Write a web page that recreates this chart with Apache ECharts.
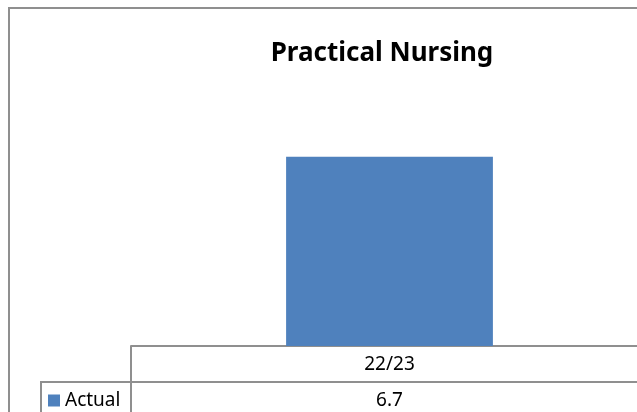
<!DOCTYPE html>
<html>
<head>
<meta charset="utf-8">
<script src="https://cdn.jsdelivr.net/npm/echarts@6/dist/echarts.min.js"></script>
<style>
  html, body { margin: 0; padding: 0; overflow: hidden; background: #fff; }
  #chart { width: 660px; height: 430px; }
</style>
</head>
<body>
<div id="chart"></div>
<script>
// chart data
const categories = ['22/23']
const seriesName = 'Actual'
const actualValues = [6.7]

const lineColor = '#8f8f8f'
const fontFamily = '"Noto Sans", sans-serif'

const chart = echarts.init(document.getElementById('chart'))

const option = {
  animation: false,
  backgroundColor: '#fff',
  title: {
    text: 'Practical Nursing',
    left: 382,
    top: 41,
    textAlign: 'center',
    padding: 0,
    textStyle: { fontFamily, fontSize: 26, fontWeight: 'bold', color: '#000' }
  },
  legend: {
    data: [seriesName],
    left: 48,
    top: 391,
    padding: 0,
    icon: 'rect',
    itemWidth: 12,
    itemHeight: 12,
    textStyle: { fontFamily, fontSize: 19, color: '#000' }
  },
  grid: { left: 131, right: 12, top: 120, bottom: 84 },
  xAxis: [
    {
      type: 'category',
      data: categories,
      axisLine: { lineStyle: { color: lineColor, width: 2 } },
      axisTick: { show: true, length: 120, lineStyle: { color: lineColor, width: 2 } },
      axisLabel: { margin: 9, fontFamily, fontSize: 19, color: '#000' }
    },
    {
      // data table row: values under each category
      type: 'category',
      position: 'bottom',
      offset: 36,
      data: actualValues.map(v => v.toFixed(1)),
      axisLine: { lineStyle: { color: lineColor, width: 2 } },
      axisTick: { show: false },
      axisLabel: { margin: 9, fontFamily, fontSize: 19, color: '#000' }
    }
  ],
  yAxis: { type: 'value', min: 0, max: 8, show: false },
  series: [{
    name: seriesName,
    type: 'bar',
    data: actualValues,
    barWidth: '40%',
    itemStyle: { color: '#4f81bd' }
  }],
  graphic: [
    {
      type: 'rect',
      shape: { x: 9, y: 8, width: 700, height: 500 },
      style: { fill: 'none', stroke: lineColor, lineWidth: 2 },
      z: 100
    },
    {
      // legend cell of the data table
      type: 'polyline',
      shape: { points: [[41, 440], [41, 382], [132, 382]] },
      style: { fill: 'none', stroke: lineColor, lineWidth: 2 },
      z: 100
    }
  ]
}

chart.setOption(option)
</script>
</body>
</html>
